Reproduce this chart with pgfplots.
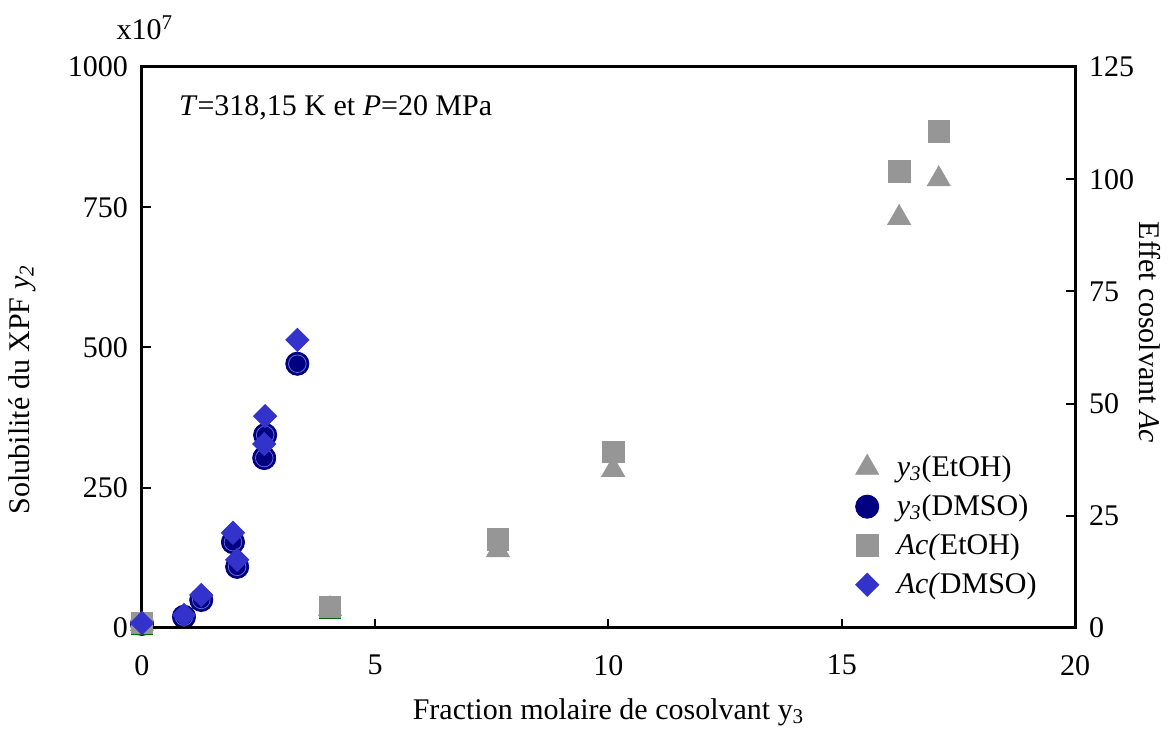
\documentclass[border=0pt]{standalone}
\usepackage{fontspec}
\setmainfont{Liberation Serif}
\usepackage{pgfplots}
\pgfplotsset{compat=1.18}
\definecolor{mygray}{HTML}{969696}
\definecolor{navy}{HTML}{000080}
\definecolor{dblue}{HTML}{3333CC}
\definecolor{ring}{HTML}{6868D8}
\definecolor{dgreen}{HTML}{006400}
\begin{document}
\begin{tikzpicture}
\path[use as bounding box] (-71pt,-52.5pt) rectangle (516pt,314pt);
\pgfplotsset{
 common/.style={
  scale only axis, width=466.5pt, height=280.5pt, at={(0,0)}, anchor=south west,
  xmin=0, xmax=20,
  tick align=inside, major tick length=4.5pt,
  tick style={black, line width=1pt},
  axis line style={line width=1.5pt},
  /pgf/number format/assume math mode=true,
  /pgf/number format/1000 sep={},
  scaled ticks=false,
  tick label style={font=\fontsize{15}{18}\selectfont},
  label style={font=\fontsize{15}{18}\selectfont},
 }
}
\begin{axis}[common,
  ymin=0, ymax=1000, ytick={0,250,500,750,1000}, xtick={0,5,10,15,20},
  xtick pos=bottom, ytick pos=left,
  xticklabel style={yshift=-10pt},
  yticklabel style={xshift=-3.5pt},
  xlabel={Fraction molaire de cosolvant y\textsubscript{3}},
  ylabel={Solubilité du XPF \textit{y\textsubscript{2}}},
  xlabel style={at={(axis description cs:0.5,-0.15)}, anchor=center},
  ylabel style={at={(axis description cs:-0.1286,0.425)}, anchor=center},
]
% y3(EtOH)
\addplot[only marks, mark=triangle*, mark size=6.6pt, color=mygray, mark options={fill=mygray, draw=mygray}]
 coordinates {(0,7.3) (4.03,34) (7.63,139) (10.1,282) (16.23,731) (17.08,800)};
% y3(DMSO)
\addplot[only marks, mark=*, mark size=5.8pt, mark options={fill=navy, draw=navy}]
 coordinates {(0,7.3) (0.9,20) (1.27,50) (1.95,153) (2.04,109) (2.62,303) (2.64,344) (3.33,471)};
\addplot[only marks, mark=o, mark size=4.4pt, mark options={draw=ring, line width=0.4pt}]
 coordinates {(0,7.3) (0.9,20) (1.27,50) (1.95,153) (2.04,109) (2.62,303) (2.64,344) (3.33,471)};
\end{axis}
\begin{axis}[common,
  ymin=0, ymax=125, ytick={0,25,50,75,100,125}, xtick=\empty,
  ytick pos=right, yticklabel pos=right,
  yticklabel style={xshift=3.5pt},
  ylabel={Effet cosolvant \textit{Ac}},
  ylabel style={at={(axis description cs:1.08,0.527)}, anchor=center, rotate=180},
  clip=false,
  legend cell align=left,
  legend style={draw=none, fill=none, at={(axis description cs:0.758,0.322)}, anchor=north west,
    font=\fontsize{15}{18}\selectfont, row sep=3.6pt,
    /tikz/every odd column/.append style={column sep=7pt}},
]
\addlegendimage{only marks, mark=triangle*, mark size=6.6pt, color=mygray, mark options={fill=mygray, draw=mygray}}
\addlegendentry{\textit{y\textsubscript{3}}(EtOH)}
\addlegendimage{only marks, mark=*, mark size=5.8pt, mark options={fill=navy, draw=navy}}
\addlegendentry{\textit{y\textsubscript{3}}(DMSO)}
% green dashes under squares
\addplot[only marks, forget plot, mark=-, mark size=5.4pt, mark options={draw=dgreen, line width=1.5pt}]
 coordinates {(4.03,2.3) (0,-1.3)};
% Ac(EtOH)
\addplot[only marks, mark=square*, mark size=5.4pt, mark options={fill=mygray, draw=mygray}]
 coordinates {(0,1.1) (4.03,4.7) (7.63,19.8) (10.1,39.2) (16.23,101.7) (17.08,110.6)};
\addlegendentry{\textit{Ac(}EtOH)}
% Ac(DMSO)
\addplot[only marks, mark=square*, mark size=4.1pt, mark options={rotate=45, fill=dblue, draw=dblue}]
 coordinates {(0,1.1) (0.9,2.9) (1.27,7.35) (1.95,21.2) (2.04,15.2) (2.62,41) (2.64,47.2) (3.33,64.2)};
\addlegendentry{\textit{Ac(}DMSO)}
\end{axis}
\node[anchor=west, font=\fontsize{15}{18}\selectfont] at (15pt,260pt) {\textit{T}=318,15 K et \textit{P}=20 MPa};
\node[font=\fontsize{15}{18}\selectfont] at (1.5pt,300pt) {x10\textsuperscript{7}};
\end{tikzpicture}
\end{document}
